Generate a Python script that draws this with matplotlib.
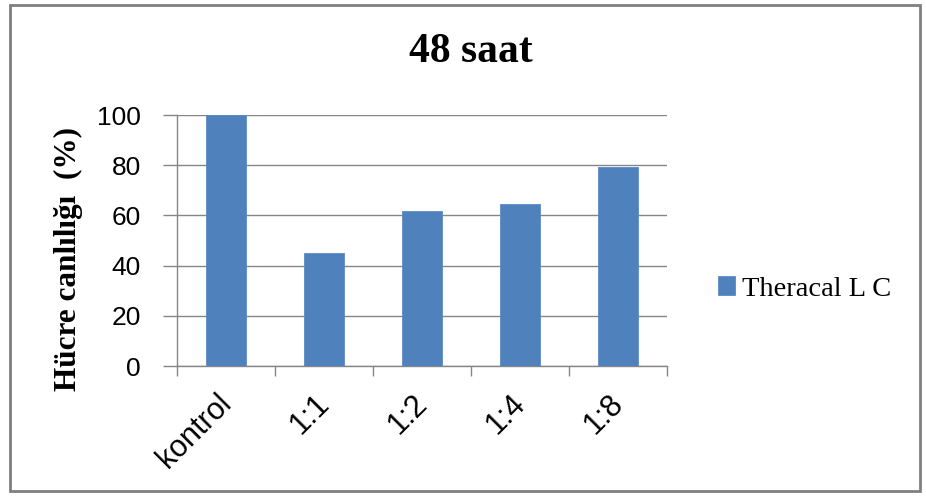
import matplotlib
matplotlib.use("Agg")
import matplotlib.pyplot as plt
from matplotlib.patches import Rectangle
from matplotlib.transforms import ScaledTranslation
import numpy as np

categories = ["kontrol", "1:1", "1:2", "1:4", "1:8"]
values = [100, 45.2, 61.7, 64.6, 79.2]
series_name = "Theracal L C"
title = "48 saat"
ylabel = "Hücre canlılığı  (%)"
yticks = [0, 20, 40, 60, 80, 100]

W, H = 926, 497
fig = plt.figure(figsize=(W / 100, H / 100), dpi=100)
ax = fig.add_axes([177 / W, 1 - 366 / H, (667 - 177) / W, (366 - 115) / H])

grid_c = "#868686"
bar_c = "#4F81BD"
x = np.arange(len(categories))
ax.bar(x, values, width=0.41, color=bar_c, edgecolor="#5B8BC6", linewidth=0.6,
       zorder=3, label=series_name)
ax.set_xlim(-0.5, len(categories) - 0.5)
ax.set_ylim(0, 100)
ax.set_yticks(yticks)
ax.yaxis.grid(True, color=grid_c, linewidth=1.0, zorder=0)
ax.set_axisbelow(True)
for s in ["top", "right"]:
    ax.spines[s].set_visible(False)
for s in ["left", "bottom"]:
    ax.spines[s].set_color(grid_c)
    ax.spines[s].set_linewidth(1.0)

ax.tick_params(axis="y", length=10, color=grid_c, width=1.0, pad=16,
               labelsize=19, labelcolor="#000000")
for t in ax.get_yticklabels():
    t.set_family(["Liberation Sans", "DejaVu Sans"])

ax.set_xticks(x)
ax.set_xticklabels(categories, rotation=45, ha="right", rotation_mode="anchor",
                   fontsize=22, family=["Liberation Sans", "DejaVu Sans"])
ax.tick_params(axis="x", which="major", length=0, pad=12)
off = ScaledTranslation(-10 / 100, -6 / 100, fig.dpi_scale_trans)
for t in ax.get_xticklabels():
    t.set_transform(t.get_transform() + off)
ax.set_xticks(np.arange(-0.5, len(categories), 1.0), minor=True)
ax.tick_params(axis="x", which="minor", length=7, color=grid_c, width=1.0)

fig.text(471 / W, 1 - 52 / H, title, ha="center", va="center", fontsize=30,
         fontweight="bold", family=["Liberation Serif", "DejaVu Serif"])
fig.text(68 / W, 1 - 259 / H, ylabel, ha="center", va="center", rotation=90,
         fontsize=22.5, fontweight="bold", family=["Liberation Serif", "DejaVu Serif"])

leg = ax.legend(loc="center left", bbox_to_anchor=(692 / W, 1 - 289 / H),
                bbox_transform=fig.transFigure, frameon=False,
                prop={"family": ["Liberation Serif", "DejaVu Serif"], "size": 20.5},
                handlelength=0.62, handleheight=0.62, handletextpad=0.25)

fig.patches.append(Rectangle((10 / W, 6 / H), (920 - 10) / W, (492 - 6) / H,
                             transform=fig.transFigure, fill=False,
                             edgecolor="#7F7F7F", linewidth=2.0))

fig.savefig("out.png", dpi=100, facecolor="white")
